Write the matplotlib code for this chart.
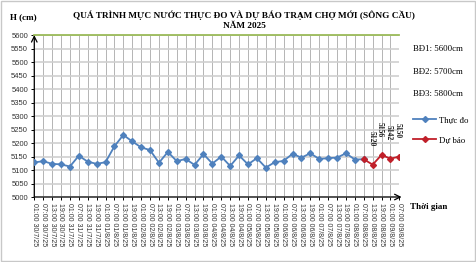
import matplotlib
matplotlib.use('Agg')
import matplotlib.pyplot as plt
from matplotlib.lines import Line2D
from matplotlib.patches import Rectangle

# time labels (every 6 hours)
days = ['30/7/25', '31/7/25', '01/8/25', '02/8/25', '03/8/25', '04/8/25',
        '05/8/25', '06/8/25', '07/8/25', '08/8/25', '09/8/25']
hours = ['01:00', '07:00', '13:00', '19:00']
labels = [h + ' ' + d for d in days for h in hours][:42]

# observed water level (cm)
observed = [5128, 5133, 5123, 5121, 5113, 5153, 5131, 5123, 5129, 5188,
            5230, 5206, 5184, 5174, 5127, 5167, 5133, 5141, 5119, 5159,
            5124, 5150, 5115, 5154, 5121, 5144, 5109, 5129, 5134, 5160,
            5146, 5162, 5141, 5144, 5146, 5162, 5139, 5140]
# forecast (starts at last observed point)
forecast = [5140, 5120, 5156, 5142, 5150]
forecast_start = 37
alarm1 = 5600

serif = 'Liberation Serif'
sans = 'Liberation Sans'

fig = plt.figure(figsize=(4.76, 2.62), dpi=100)
ax = fig.add_axes([0.072, 0.248, 0.767, 0.618])

x_obs = list(range(len(observed)))
x_fc = list(range(forecast_start, forecast_start + len(forecast)))

ax.plot([0, len(labels) - 1], [alarm1, alarm1], color='#9BBB59', lw=1.3, zorder=3, clip_on=False)
ax.plot(x_obs, observed, color='#4F81BD', lw=1.3, marker='D', ms=3, zorder=4)
ax.plot(x_fc, forecast, color='#C0202A', lw=1.3, marker='D', ms=3, zorder=5)

for xi, v in zip(x_fc[1:], forecast[1:]):
    ax.annotate(str(v), (xi, v), textcoords='offset points', xytext=(-1, 13),
                rotation=-90, ha='center', va='bottom', fontsize=5.5,
                family=serif, fontweight='bold', color='#222222')

ax.set_xlim(0, len(labels) - 1)
ax.set_ylim(5000, 5600)
ax.set_yticks(range(5000, 5601, 50))
ax.set_xticks(range(len(labels)))
ax.set_xticklabels(labels, rotation=-90, fontsize=5, family=sans, color='#333333')
ax.tick_params(axis='y', labelsize=5.5, length=2.5, width=0.7, pad=2, labelcolor='#333333')
ax.tick_params(axis='x', length=2.5, width=0.7, pad=2)
for t in ax.get_yticklabels():
    t.set_family(sans)

ax.yaxis.grid(True, color='#cfcfcf', lw=1.2)
ax.xaxis.grid(True, color='#a8a8a8', lw=0.6)
ax.set_axisbelow(True)
for s in ['top', 'right', 'left', 'bottom']:
    ax.spines[s].set_visible(False)

# axis arrows
ax.annotate('', xy=(0, 1.0), xytext=(0, 0), xycoords='axes fraction',
            arrowprops=dict(arrowstyle='->', color='black', lw=0.9, shrinkA=0, shrinkB=0))
ax.annotate('', xy=(1.006, 0), xytext=(0, 0), xycoords='axes fraction',
            arrowprops=dict(arrowstyle='->', color='black', lw=0.9, shrinkA=0, shrinkB=0))

fig.text(0.513, 0.942, 'QUÁ TRÌNH MỰC NƯỚC THỰC ĐO VÀ DỰ BÁO TRẠM CHỢ MỚI (SÔNG CẦU)',
         ha='center', va='center', fontsize=6.7, family=serif, fontweight='bold')
fig.text(0.513, 0.899, 'NĂM 2025', ha='center', va='center', fontsize=6.7,
         family=serif, fontweight='bold')
fig.text(0.021, 0.935, 'H (cm)', ha='left', va='center', fontsize=6.5,
         family=serif, fontweight='bold')
fig.text(0.862, 0.21, 'Thời gian', ha='left', va='center', fontsize=6.5,
         family=serif, fontweight='bold')

for i, txt in enumerate(['BĐ1: 5600cm', 'BĐ2: 5700cm', 'BĐ3: 5800cm']):
    fig.text(0.868, 0.812 - i * 0.086, txt, ha='left', va='center',
             fontsize=6.3, family=serif)

handles = [Line2D([], [], color='#4F81BD', lw=1.3, marker='D', ms=3),
           Line2D([], [], color='#C0202A', lw=1.3, marker='D', ms=3)]
fig.legend(handles, ['Thực đo', 'Dự báo'], loc='upper left',
           bbox_to_anchor=(0.868, 0.556), frameon=False,
           prop={'family': serif, 'size': 6.3}, handlelength=2.6,
           handletextpad=0.4, labelspacing=1.3, borderaxespad=0, borderpad=0)

fig.patches.append(Rectangle((0.002, 0.004), 0.996, 0.992, transform=fig.transFigure,
                             fill=False, edgecolor='#c8c8c8', lw=1.0))

fig.savefig('out.png', dpi=100)
